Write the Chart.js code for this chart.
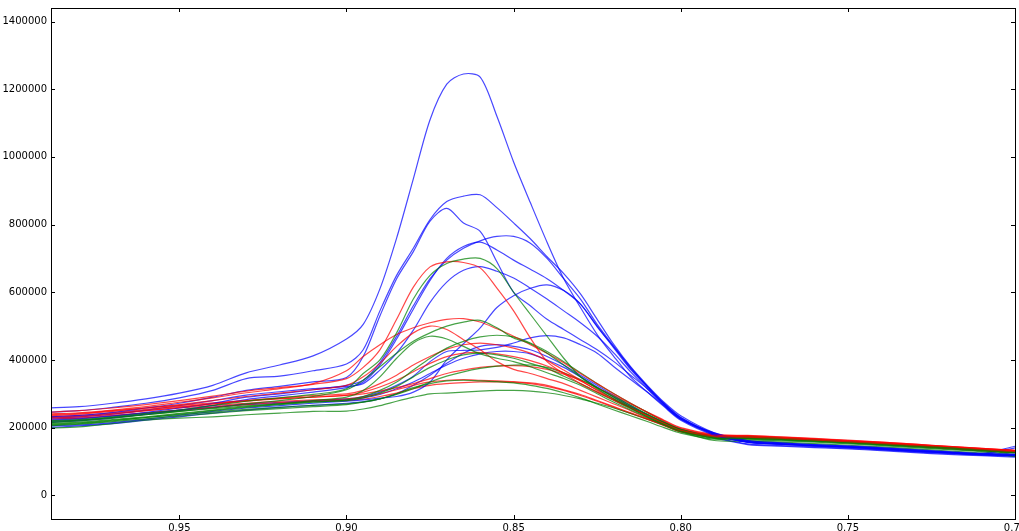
<!DOCTYPE html>
<html>
<head>
<meta charset="utf-8">
<script src="https://cdn.jsdelivr.net/npm/chart.js@4.4.1/dist/chart.umd.min.js"></script>
<style>
  html, body { margin: 0; padding: 0; background: #fff; }
  #wrap { width: 1019px; height: 531px; position: relative; }
</style>
</head>
<body>
<div id="wrap"><canvas id="chart"></canvas></div>
<script>
// ── Data (intensity values in thousands) ───────────────────────────────────
const UNIT = 1000;
const xValues = [0.99, 0.98, 0.97, 0.96, 0.95, 0.94, 0.93, 0.92, 0.91, 0.90,
  0.895, 0.89, 0.885, 0.88, 0.875, 0.87, 0.865, 0.86, 0.855, 0.85,
  0.845, 0.84, 0.835, 0.83, 0.825, 0.82, 0.815, 0.81, 0.805, 0.80,
  0.79, 0.78, 0.77, 0.76, 0.75, 0.74, 0.73, 0.72, 0.71, 0.70];

const xTicks = [0.95, 0.90, 0.85, 0.80, 0.75, 0.70];
const yTicks = [0, 200000, 400000, 600000, 800000, 1000000, 1200000, 1400000];

// blue runs
const blue1 = [258, 262, 272, 285, 302, 325, 362, 385, 412, 462, 505, 610, 760, 935, 1110, 1215, 1245, 1236, 1120, 985, 865, 748, 640, 555, 475, 410, 350, 305, 262, 222, 178, 158, 152, 147, 143, 138, 132, 127, 122, 118];
const blue2 = [245, 250, 260, 272, 288, 310, 345, 352, 368, 388, 430, 545, 650, 730, 815, 868, 884, 888, 850, 805, 758, 705, 655, 595, 520, 445, 380, 325, 275, 235, 185, 162, 155, 150, 146, 141, 135, 129, 124, 122];
const blue3 = [232, 236, 245, 258, 272, 290, 310, 322, 335, 348, 410, 530, 640, 720, 810, 848, 805, 780, 690, 600, 560, 520, 490, 460, 430, 395, 355, 315, 270, 230, 182, 160, 153, 148, 144, 139, 133, 127, 122, 120];
const blue4 = [222, 226, 234, 245, 258, 272, 290, 300, 312, 325, 340, 392, 470, 560, 640, 695, 730, 752, 765, 765, 745, 700, 640, 580, 505, 440, 375, 322, 272, 230, 183, 158, 152, 147, 143, 138, 131, 126, 121, 118];
const blue5 = [215, 220, 228, 240, 252, 266, 283, 294, 305, 318, 335, 385, 462, 550, 635, 700, 735, 748, 725, 695, 668, 640, 605, 565, 500, 435, 372, 320, 268, 226, 180, 156, 150, 146, 141, 136, 130, 125, 120, 117];
const blue6 = [228, 232, 240, 252, 265, 280, 296, 306, 315, 322, 330, 370, 420, 488, 570, 630, 665, 676, 662, 642, 612, 580, 545, 510, 470, 420, 365, 315, 265, 225, 180, 157, 151, 146, 142, 137, 131, 126, 121, 140];
const blue7 = [205, 208, 215, 225, 236, 248, 258, 265, 272, 278, 282, 287, 292, 305, 335, 400, 448, 495, 555, 590, 612, 622, 605, 565, 498, 438, 378, 322, 270, 228, 182, 158, 151, 146, 142, 136, 130, 125, 120, 117];
const blue8 = [218, 222, 230, 240, 250, 260, 270, 275, 280, 285, 292, 305, 325, 352, 395, 425, 428, 430, 437, 450, 465, 472, 465, 445, 420, 380, 342, 305, 265, 225, 185, 162, 155, 150, 145, 140, 134, 128, 124, 145];
const blue9 = [200, 205, 212, 222, 232, 243, 252, 260, 266, 272, 276, 285, 300, 325, 355, 390, 420, 440, 445, 440, 430, 410, 385, 355, 325, 295, 265, 238, 215, 195, 172, 152, 147, 143, 139, 134, 128, 123, 119, 116];
const blue10 = [225, 228, 235, 243, 252, 260, 268, 272, 278, 282, 288, 298, 315, 335, 360, 385, 405, 418, 425, 425, 418, 400, 378, 350, 320, 290, 262, 238, 215, 195, 170, 150, 145, 141, 137, 132, 126, 121, 117, 113];

// red runs
const red1 = [245, 250, 258, 268, 280, 293, 308, 318, 328, 345, 378, 430, 520, 615, 675, 690, 688, 672, 612, 545, 465, 395, 360, 330, 305, 282, 258, 235, 212, 192, 175, 172, 168, 163, 158, 152, 146, 140, 134, 128];
const red2 = [240, 244, 252, 262, 275, 288, 303, 315, 330, 368, 410, 445, 475, 495, 510, 520, 522, 512, 492, 470, 445, 420, 392, 360, 330, 300, 272, 245, 220, 198, 178, 175, 170, 165, 160, 154, 148, 142, 136, 130];
const red3 = [235, 240, 248, 258, 268, 280, 292, 302, 312, 325, 350, 390, 440, 480, 500, 490, 460, 430, 395, 372, 360, 345, 330, 310, 290, 270, 250, 228, 208, 188, 172, 170, 166, 162, 157, 152, 146, 139, 133, 127];
const red4 = [228, 232, 240, 250, 260, 270, 280, 288, 295, 300, 310, 330, 355, 385, 410, 432, 445, 450, 445, 435, 420, 398, 370, 340, 310, 282, 258, 235, 212, 192, 176, 174, 170, 165, 160, 155, 149, 143, 137, 132];
const red5 = [232, 236, 244, 254, 262, 270, 278, 285, 290, 296, 305, 320, 340, 365, 390, 410, 420, 422, 418, 410, 398, 382, 362, 338, 312, 285, 260, 236, 214, 194, 178, 176, 172, 167, 162, 157, 151, 145, 139, 133];
const red6 = [238, 242, 250, 258, 266, 273, 280, 286, 290, 295, 300, 308, 318, 330, 345, 360, 370, 378, 382, 383, 380, 372, 358, 340, 318, 295, 270, 246, 222, 200, 180, 177, 173, 168, 163, 157, 151, 145, 139, 133];
const red7 = [230, 234, 242, 250, 258, 265, 272, 278, 282, 285, 290, 300, 312, 325, 335, 340, 342, 340, 338, 336, 332, 325, 312, 298, 280, 262, 244, 226, 208, 190, 176, 174, 170, 166, 161, 156, 150, 144, 138, 132];
const red8 = [225, 228, 236, 244, 252, 260, 268, 274, 278, 280, 284, 292, 302, 315, 325, 330, 333, 335, 335, 334, 330, 322, 310, 295, 278, 260, 242, 224, 206, 188, 174, 172, 168, 164, 159, 154, 148, 142, 136, 130];

// green runs
const green1 = [220, 224, 232, 242, 252, 265, 278, 288, 298, 315, 360, 400, 480, 580, 650, 685, 698, 700, 670, 600, 535, 470, 405, 350, 315, 285, 258, 232, 210, 190, 170, 168, 165, 160, 155, 150, 145, 140, 133, 126];
const green2 = [215, 220, 228, 238, 248, 258, 270, 280, 292, 312, 340, 380, 420, 455, 480, 500, 512, 517, 495, 465, 448, 420, 385, 350, 318, 290, 262, 238, 215, 195, 174, 172, 168, 163, 158, 152, 146, 140, 134, 128];
const green3 = [212, 216, 224, 232, 242, 252, 262, 270, 280, 290, 310, 350, 405, 450, 470, 462, 440, 418, 405, 395, 380, 362, 345, 325, 300, 275, 252, 230, 208, 188, 168, 166, 163, 159, 154, 149, 143, 137, 131, 125];
const green4 = [208, 212, 220, 230, 240, 250, 260, 268, 275, 282, 292, 310, 335, 370, 405, 435, 455, 468, 473, 468, 450, 425, 395, 362, 330, 300, 272, 245, 218, 195, 172, 170, 167, 163, 158, 152, 146, 140, 134, 120];
const green5 = [218, 222, 230, 238, 248, 256, 264, 270, 276, 280, 288, 302, 322, 350, 378, 400, 415, 420, 415, 405, 390, 375, 352, 330, 305, 280, 256, 232, 210, 190, 170, 168, 165, 161, 156, 151, 145, 139, 133, 127];
const green6 = [210, 214, 222, 230, 238, 246, 254, 260, 266, 270, 276, 285, 298, 315, 335, 352, 365, 375, 382, 385, 385, 378, 362, 342, 318, 292, 266, 240, 216, 194, 170, 168, 165, 161, 156, 150, 144, 138, 132, 126];
const green7 = [205, 210, 218, 226, 234, 242, 250, 256, 262, 268, 275, 285, 300, 318, 330, 338, 340, 338, 336, 332, 325, 316, 303, 288, 270, 252, 235, 218, 200, 184, 166, 164, 161, 157, 152, 147, 141, 135, 129, 118];
const green8 = [198, 202, 212, 222, 228, 232, 238, 243, 248, 249, 255, 265, 278, 290, 300, 302, 305, 308, 310, 310, 308, 303, 295, 285, 272, 258, 242, 225, 207, 188, 162, 160, 157, 153, 148, 143, 137, 131, 125, 115];

const blueRuns = [blue1, blue2, blue3, blue4, blue5, blue6, blue7, blue8, blue9, blue10];
const redRuns = [red1, red2, red3, red4, red5, red6, red7, red8];
const greenRuns = [green1, green2, green3, green4, green5, green6, green7, green8];

// ── Build datasets ─────────────────────────────────────────────────────────
function toPoints(vals) {
  return vals.map((v, i) => ({ x: xValues[i], y: v * UNIT }));
}
function makeSet(vals, color) {
  return {
    data: toPoints(vals),
    borderColor: color,
    borderWidth: 1.2,
    pointRadius: 0,
    fill: false,
    tension: 0.3,
  };
}

const datasets = [];
// interleave like the original plot order
for (let i = 0; i < 10; i++) {
  if (greenRuns[i]) datasets.push(makeSet(greenRuns[i], 'rgba(0,128,0,0.72)'));
  if (redRuns[i]) datasets.push(makeSet(redRuns[i], 'rgba(255,0,0,0.72)'));
  if (blueRuns[i]) datasets.push(makeSet(blueRuns[i], 'rgba(0,0,255,0.72)'));
}

// frame + inward tick marks, matplotlib style
const frameTicks = {
  id: 'frameTicks',
  afterDraw(chart) {
    const { ctx, chartArea: a, scales } = chart;
    ctx.save();
    ctx.strokeStyle = '#000';
    ctx.lineWidth = 1;
    ctx.beginPath();
    xTicks.forEach(v => {
      const px = Math.round(scales.x.getPixelForValue(v)) + 0.5;
      ctx.moveTo(px, a.bottom); ctx.lineTo(px, a.bottom - 4);
      ctx.moveTo(px, a.top); ctx.lineTo(px, a.top + 4);
    });
    yTicks.forEach(v => {
      const py = Math.round(scales.y.getPixelForValue(v)) + 0.5;
      ctx.moveTo(a.left, py); ctx.lineTo(a.left + 4, py);
      ctx.moveTo(a.right, py); ctx.lineTo(a.right - 4, py);
    });
    ctx.stroke();
    ctx.strokeRect(Math.round(a.left) + 0.5, Math.round(a.top) + 0.5,
      Math.round(a.right - a.left), Math.round(a.bottom - a.top));
    ctx.restore();
  }
};

const font = { family: "'DejaVu Sans', sans-serif", size: 10 };

new Chart(document.getElementById('chart'), {
  type: 'line',
  data: { datasets },
  options: {
    responsive: true,
    maintainAspectRatio: false,
    animation: false,
    layout: { padding: { top: 8, right: 4, left: 0, bottom: 0 } },
    plugins: { legend: { display: false }, tooltip: { enabled: false } },
    scales: {
      x: {
        type: 'linear',
        reverse: true,
        min: 0.70,
        max: 0.9884,
        grid: { display: false, drawTicks: false },
        border: { display: false },
        afterBuildTicks: s => { s.ticks = xTicks.map(v => ({ value: v })); },
        afterFit: s => { s.height = 12; s.paddingLeft = 0; s.paddingRight = 0; },
        ticks: { color: '#000', font, padding: 3, maxRotation: 0, callback: v => v.toFixed(2) },
      },
      y: {
        min: -70000,
        max: 1440000,
        grid: { display: false, drawTicks: false },
        border: { display: false },
        afterBuildTicks: s => { s.ticks = yTicks.map(v => ({ value: v })); },
        afterFit: s => { s.width = 51; s.paddingTop = 0; s.paddingBottom = 0; },
        ticks: { color: '#000', font, padding: 4, callback: v => String(v) },
      },
    },
  },
  plugins: [frameTicks],
});
</script>
</body>
</html>
